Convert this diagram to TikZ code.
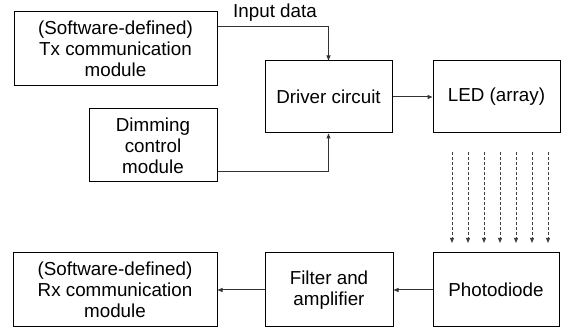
\documentclass[tikz,border=0pt]{standalone}
\usepackage{fontspec}
\setmainfont{Liberation Sans}
\usetikzlibrary{arrows.meta,calc}
\begin{document}
\begin{tikzpicture}[x=1pt,y=-1pt,
  box/.style={draw=black,line width=1pt,rectangle,inner sep=0pt,align=center,
    font=\fontsize{18.8}{21}\selectfont},
  conn/.style={draw=black!80,line width=1pt,-{Triangle[length=5pt,width=4pt]}},
  light/.style={draw=black!75,line width=1pt,dash pattern=on 3pt off 2pt,-{Triangle[length=5pt,width=4pt]}},
  lbl/.style={inner sep=0pt,font=\fontsize{18.8}{21}\selectfont}]
\useasboundingbox (0,0) rectangle (562,328);
\node[box,minimum width=203pt,minimum height=74pt] (tx) at (115.5,49) {(Software-defined)\\Tx communication\\module};
\node[box,minimum width=128pt,minimum height=73pt] (dim) at (153,145.5) {Dimming\\control\\module};
\node[box,minimum width=127pt,minimum height=72pt] (drv) at (328.5,97) {Driver circuit};
\node[box,minimum width=127pt,minimum height=72pt] (led) at (496.5,97) {LED (array)};
\node[box,minimum width=204pt,minimum height=74pt] (rx) at (115,290) {(Software-defined)\\Rx communication\\module};
\node[box,minimum width=128pt,minimum height=74pt] (flt) at (329,290) {Filter and\\amplifier};
\node[box,minimum width=126pt,minimum height=74pt] (pd) at (496,290) {Photodiode};
\node[lbl] (inp) at (275,13) {Input data};
\coordinate (txo) at ($(tx.north east)!0.2!(tx.south east)$);
\coordinate (dimo) at ($(dim.north east)!0.85!(dim.south east)$);
\draw[conn] (txo) -| (drv.north);
\draw[conn] (dimo) -| (drv.south);
\draw[conn] (drv.east) -- (led.west);
\draw[conn] (pd.west) -- (flt.east);
\draw[conn] (flt.west) -- (rx.east);
\foreach \i in {0,...,6}{
  \coordinate (ls\i) at (452+16*\i,152);
  \coordinate (le\i) at (452+16*\i,243);
  \draw[light] (ls\i) -- (le\i);
}
\end{tikzpicture}
\end{document}
